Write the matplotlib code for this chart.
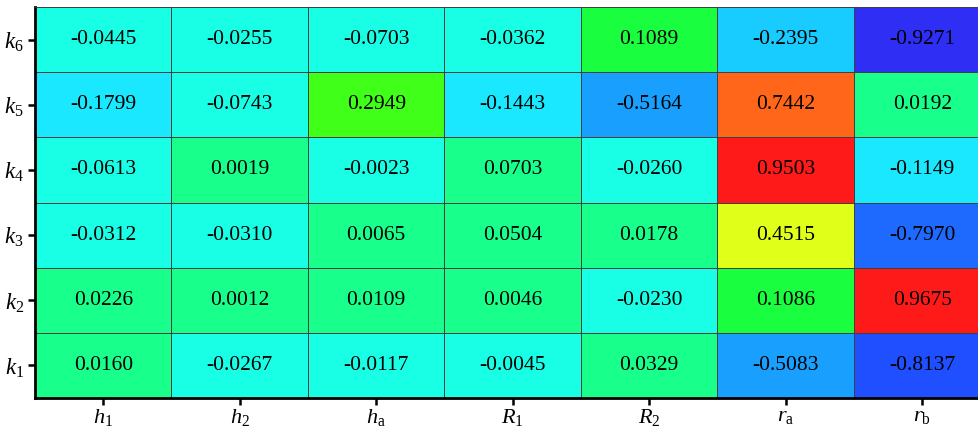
import matplotlib
matplotlib.use("Agg")
import matplotlib.pyplot as plt
import numpy as np
from matplotlib.colors import ListedColormap, BoundaryNorm

plt.rcParams['font.family'] = ['Liberation Serif', 'DejaVu Serif']
plt.rcParams['mathtext.fontset'] = 'custom'
plt.rcParams['mathtext.rm'] = 'Liberation Serif'
plt.rcParams['mathtext.it'] = 'Liberation Serif:italic'

col_labels = [r'$h_1$', r'$h_2$', r'$h_\mathrm{a}$', r'$R_1$', r'$R_2$',
              r'$r_\mathrm{a}$', r'$r_\mathrm{b}$']
row_labels = [r'$k_1$', r'$k_2$', r'$k_3$', r'$k_4$', r'$k_5$', r'$k_6$']

# rows from k1 (bottom) up to k6 (top)
k1 = [0.0160, -0.0267, -0.0117, -0.0045, 0.0329, -0.5083, -0.8137]
k2 = [0.0226, 0.0012, 0.0109, 0.0046, -0.0230, 0.1086, 0.9675]
k3 = [-0.0312, -0.0310, 0.0065, 0.0504, 0.0178, 0.4515, -0.7970]
k4 = [-0.0613, 0.0019, -0.0023, 0.0703, -0.0260, 0.9503, -0.1149]
k5 = [-0.1799, -0.0743, 0.2949, -0.1443, -0.5164, 0.7442, 0.0192]
k6 = [-0.0445, -0.0255, -0.0703, -0.0362, 0.1089, -0.2395, -0.9271]

data = np.array([k1, k2, k3, k4, k5, k6])

# stepped blue -> cyan -> green -> yellow -> red scale
levels = [-1, -0.9, -0.8, -0.6, -0.4, -0.2, -0.1, 0, 0.1, 0.2, 0.4, 0.6, 0.8, 1]
colors = ['#2E2EF5', '#1F4FFF', '#1E6AFF', '#19A0FF', '#19CCFF', '#19E8FF',
          '#19FFE6', '#19FF8C', '#19FF40', '#40FF19', '#E0FF19', '#FF6619',
          '#FF1A1A']
cmap = ListedColormap(colors)
norm = BoundaryNorm(levels, cmap.N)

fig = plt.figure(figsize=(9.79, 4.30), dpi=100)
ax = fig.add_axes([35 / 979, 32 / 430, 7 * 136.5 / 979, 391 / 430])

ax.pcolormesh(data, cmap=cmap, norm=norm, edgecolors='#404040', linewidth=0.6)

for i in range(data.shape[0]):
    for j in range(data.shape[1]):
        ax.text(j + 0.5, i + 0.5, f'{data[i, j]:.4f}', ha='center', va='center',
                fontsize=15.5, color='black')

ax.set_xlim(0, data.shape[1])
ax.set_ylim(0, data.shape[0])
ax.set_xticks(np.arange(data.shape[1]) + 0.5)
ax.set_xticklabels(col_labels, fontsize=16)
ax.set_yticks(np.arange(data.shape[0]) + 0.5)
ax.set_yticklabels(row_labels, fontsize=16.5)
ax.tick_params(axis='both', direction='out', length=5, width=1.8, color='black', pad=3)
ax.tick_params(axis='x', pad=1.5)

for side in ['left', 'bottom']:
    ax.spines[side].set_linewidth(2)
    ax.spines[side].set_color('black')
ax.spines['top'].set_linewidth(0.6)
ax.spines['top'].set_color('#404040')
ax.spines['right'].set_visible(False)

fig.savefig('out.png', dpi=100)
